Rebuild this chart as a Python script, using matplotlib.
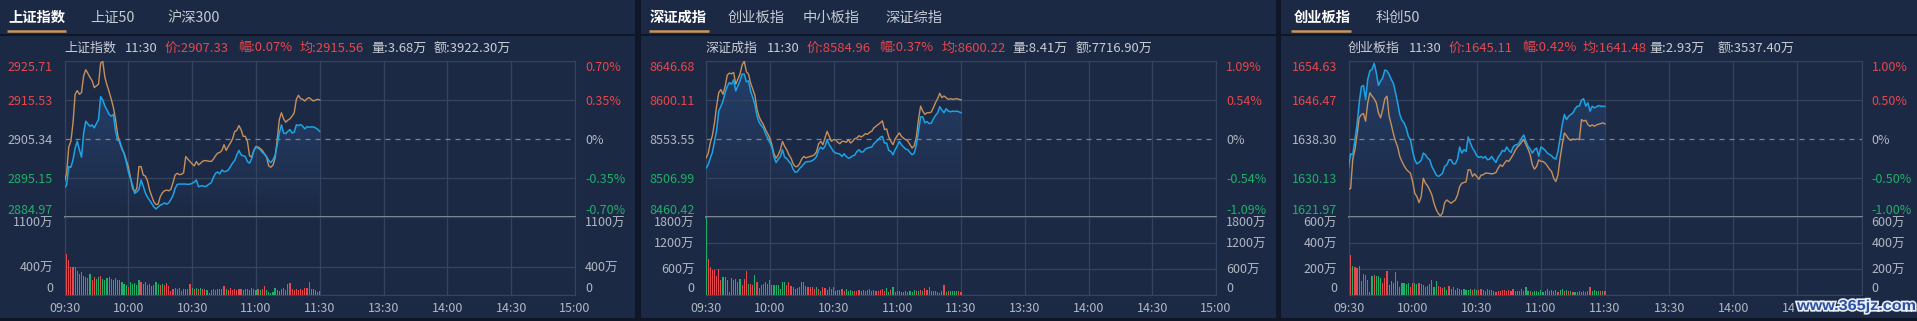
import numpy as np
import matplotlib.pyplot as plt
from matplotlib import patheffects
from matplotlib.patches import Rectangle, PathPatch
from matplotlib.colors import LinearSegmentedColormap
from matplotlib.textpath import TextPath
from matplotlib.font_manager import FontProperties
from matplotlib.transforms import Affine2D

plt.rcParams['font.family'] = ['Noto Sans CJK SC', 'DejaVu Sans']

# ---------------- data ----------------
minutes = np.arange(121)  # 09:30 .. 11:30, one point per minute
time_ticks = [0, 30, 60, 90, 120, 150, 180, 210, 240]
time_labels = ['09:30', '10:00', '10:30', '11:00', '11:30', '13:30', '14:00', '14:30', '15:00']

# 上证指数
sh_tabs = ['上证指数', '上证50', '沪深300']
sh_levels = [2884.97, 2895.15, 2905.34, 2915.53, 2925.71]
sh_pct = ['-0.70%', '-0.35%', '0%', '0.35%', '0.70%']
sh_vticks = [0, 400, 1100]
sh_amount = ['3.68万', '3922.30万']
sh_price = [
    2892.61, 2893.31, 2898.14, 2897.96, 2899.90, 2902.97, 2904.73, 2902.53, 2900.60, 2906.92,
    2909.99, 2909.29, 2908.68, 2909.03, 2908.24, 2909.38, 2910.43, 2916.40, 2915.52, 2913.94,
    2912.89, 2911.75, 2911.31, 2911.75, 2907.36, 2904.99, 2904.73, 2902.97, 2901.56, 2899.46,
    2896.82, 2894.98, 2893.31, 2891.12, 2891.56, 2892.17, 2894.63, 2893.05, 2891.29, 2890.15,
    2889.36, 2888.48, 2887.60, 2887.08, 2887.60, 2888.04, 2888.31, 2888.66, 2888.31, 2888.66,
    2889.54, 2890.59, 2892.43, 2893.49, 2893.57, 2893.57, 2893.57, 2893.57, 2893.49, 2893.57,
    2893.75, 2894.10, 2894.63, 2892.87, 2893.05, 2893.14, 2892.87, 2893.14, 2893.57, 2893.93,
    2895.33, 2896.38, 2896.74, 2896.21, 2897.26, 2896.82, 2896.91, 2897.26, 2898.14, 2899.02,
    2899.72, 2901.21, 2902.35, 2901.21, 2900.95, 2900.77, 2899.46, 2899.02, 2900.25, 2902.35,
    2903.23, 2902.97, 2902.53, 2901.83, 2901.39, 2900.77, 2899.72, 2899.19, 2899.90, 2901.04,
    2903.85, 2906.92, 2909.03, 2906.92, 2906.74, 2907.36, 2907.80, 2906.92, 2907.10, 2909.03,
    2908.85, 2909.12, 2908.68, 2907.97, 2908.59, 2908.41, 2908.50, 2908.50, 2908.24, 2907.89,
    2907.33]
sh_avg = [
    2894.19, 2896.38, 2903.23, 2904.73, 2909.55, 2917.02, 2917.98, 2917.02, 2917.46, 2921.85,
    2923.43, 2922.46, 2921.41, 2920.53, 2918.77, 2919.21, 2919.65, 2925.20, 2925.60, 2921.41,
    2919.39, 2917.63, 2915.70, 2913.51, 2910.43, 2906.48, 2904.29, 2902.71, 2901.65, 2899.90,
    2898.14, 2895.33, 2892.43, 2891.56, 2892.43, 2898.14, 2898.14, 2895.95, 2895.68, 2894.45,
    2891.99, 2890.41, 2888.92, 2888.22, 2888.31, 2890.24, 2891.29, 2891.82, 2891.99, 2891.82,
    2892.17, 2893.93, 2895.95, 2896.38, 2896.03, 2896.12, 2896.56, 2900.77, 2900.07, 2899.46,
    2898.84, 2898.32, 2899.46, 2898.58, 2899.02, 2899.55, 2899.72, 2899.63, 2899.55, 2899.46,
    2900.07, 2900.95, 2901.65, 2901.83, 2902.35, 2903.85, 2902.35, 2903.41, 2904.29, 2905.34,
    2907.27, 2907.62, 2908.85, 2907.80, 2906.04, 2906.04, 2904.73, 2900.95, 2900.60, 2902.35,
    2903.41, 2903.23, 2902.88, 2902.35, 2901.48, 2900.60, 2898.32, 2897.96, 2898.49, 2900.34,
    2905.16, 2910.43, 2912.19, 2910.61, 2909.73, 2910.26, 2910.61, 2911.31, 2912.19, 2915.70,
    2916.75, 2915.88, 2915.70, 2915.26, 2915.88, 2916.14, 2915.70, 2915.26, 2915.52, 2915.70,
    2915.56]
sh_vol = [
    1100, 585, 490, 400, 400, 400, 345, 300, 330, 275,
    260, 245, 300, 205, 260, 230, 250, 275, 230, 215,
    240, 260, 230, 205, 245, 215, 205, 185, 150, 140,
    115, 185, 150, 170, 140, 205, 185, 160, 185, 140,
    160, 125, 140, 185, 150, 140, 150, 140, 170, 125,
    60, 90, 105, 90, 105, 60, 80, 90, 80, 150,
    105, 80, 105, 90, 105, 80, 90, 70, 30, 70,
    80, 70, 80, 90, 80, 125, 80, 70, 105, 70,
    80, 70, 80, 90, 70, 80, 90, 70, 105, 80,
    70, 90, 70, 80, 125, 70, 45, 30, 45, 105,
    70, 60, 80, 105, 70, 150, 170, 90, 70, 80,
    70, 90, 70, 105, 105, 185, 90, 80, 70, 45,
    55]
sh_dir = ('grrrrrrgrg' 'rrgrrggrgg' 'ggrggggggg' 'rgggggrgrr' 'rggggrgrrr' 'rrrrrrggrr'
          'grgrgrrggr' 'rrrrrrgrrr' 'rrrrgrrggr' 'grgrrggggg' 'ggrrrrrrrr' 'rrrrrrgggg' 'g')

# 深证成指
sz_tabs = ['深证成指', '创业板指', '中小板指', '深证综指']
sz_levels = [8460.42, 8506.99, 8553.55, 8600.11, 8646.68]
sz_pct = ['-1.09%', '-0.54%', '0%', '0.54%', '1.09%']
sz_vticks = [0, 600, 1200, 1800]
sz_amount = ['8.41万', '7716.90万']
sz_price = [
    8518.63, 8522.64, 8530.67, 8537.49, 8550.74, 8563.99, 8586.87, 8592.49, 8598.91, 8608.94,
    8616.17, 8620.99, 8618.98, 8624.20, 8610.95, 8616.97, 8622.99, 8631.02, 8631.02, 8621.79,
    8622.99, 8610.55, 8602.92, 8594.89, 8580.85, 8573.62, 8569.61, 8566.80, 8559.97, 8554.75,
    8549.54, 8543.92, 8531.87, 8525.45, 8529.47, 8532.68, 8540.71, 8531.87, 8530.27, 8526.66,
    8523.85, 8517.42, 8513.81, 8514.61, 8518.23, 8520.64, 8523.85, 8526.25, 8526.66, 8526.66,
    8527.86, 8529.47, 8532.68, 8540.71, 8543.92, 8541.51, 8544.72, 8552.75, 8546.73, 8542.71,
    8538.70, 8536.69, 8536.29, 8535.49, 8532.68, 8535.89, 8532.68, 8530.67, 8531.47, 8533.48,
    8534.28, 8538.70, 8540.71, 8537.90, 8538.30, 8541.51, 8542.71, 8543.51, 8543.92, 8547.93,
    8550.34, 8552.75, 8555.56, 8556.76, 8548.73, 8548.73, 8539.90, 8538.70, 8534.68, 8540.71,
    8545.52, 8550.74, 8546.73, 8543.92, 8541.51, 8540.71, 8537.49, 8534.68, 8536.69, 8546.73,
    8562.78, 8580.04, 8580.04, 8572.82, 8574.42, 8572.01, 8572.42, 8577.63, 8581.65, 8584.86,
    8592.08, 8588.07, 8584.86, 8589.68, 8586.87, 8586.06, 8586.87, 8586.46, 8586.87, 8586.06,
    8584.96]
sz_avg = [
    8530.67, 8535.89, 8548.73, 8557.56, 8572.82, 8592.89, 8608.94, 8612.56, 8606.94, 8616.17,
    8629.82, 8632.22, 8631.42, 8633.03, 8618.98, 8625.00, 8631.02, 8641.86, 8646.50, 8633.83,
    8631.02, 8620.18, 8612.96, 8605.73, 8588.87, 8580.04, 8574.82, 8570.81, 8564.79, 8559.97,
    8554.75, 8546.73, 8535.89, 8530.67, 8534.68, 8540.71, 8550.74, 8544.72, 8540.71, 8534.68,
    8530.67, 8523.85, 8520.64, 8520.64, 8523.85, 8529.47, 8532.68, 8531.07, 8531.87, 8532.68,
    8533.48, 8534.68, 8538.30, 8547.93, 8550.74, 8546.73, 8554.75, 8562.78, 8556.76, 8550.74,
    8552.75, 8552.75, 8549.54, 8547.93, 8550.74, 8550.74, 8549.54, 8552.75, 8548.73, 8550.74,
    8553.95, 8554.75, 8557.56, 8555.96, 8557.56, 8559.97, 8559.17, 8561.58, 8562.78, 8566.80,
    8568.80, 8570.81, 8572.82, 8575.23, 8564.79, 8565.59, 8555.96, 8550.74, 8546.73, 8553.55,
    8557.56, 8560.78, 8556.76, 8554.35, 8552.75, 8551.14, 8546.73, 8542.71, 8545.52, 8555.96,
    8576.83, 8592.89, 8586.87, 8582.85, 8584.86, 8584.86, 8585.66, 8590.88, 8596.90, 8601.72,
    8608.14, 8602.92, 8604.93, 8602.92, 8600.92, 8601.72, 8600.92, 8601.32, 8601.72, 8600.92,
    8600.22]
sz_vol = [
    1800, 820, 650, 585, 570, 445, 600, 350, 415, 415,
    350, 80, 390, 335, 365, 310, 365, 235, 365, 560,
    255, 255, 235, 470, 290, 155, 235, 255, 290, 255,
    335, 235, 235, 235, 235, 130, 290, 290, 235, 310,
    210, 180, 130, 155, 180, 290, 290, 210, 180, 180,
    180, 130, 195, 130, 100, 180, 155, 115, 180, 130,
    195, 100, 115, 115, 130, 100, 150, 100, 115, 100,
    100, 100, 115, 100, 115, 100, 115, 130, 100, 115,
    100, 100, 115, 130, 100, 155, 80, 115, 180, 80,
    85, 85, 80, 80, 85, 80, 100, 80, 115, 100,
    85, 115, 100, 155, 115, 195, 100, 100, 85, 80,
    55, 100, 235, 80, 100, 100, 85, 85, 100, 85,
    80]
sz_dir = ('grrrrrrrgg' 'gggrgrgrrr' 'grrgrrrrgg' 'rgggggggrr' 'rrggggggrr' 'rrgrgrrgrr'
          'rgggrrgggg' 'rrrgrrrrrg' 'rrrrrggrgg' 'rggggrgggr' 'grgrrrgggr' 'grrgrggggr' 'r')

# 创业板指
cy_tabs = ['创业板指', '科创50']
cy_levels = [1621.97, 1630.13, 1638.30, 1646.47, 1654.63]
cy_pct = ['-1.00%', '-0.50%', '0%', '0.50%', '1.00%']
cy_vticks = [0, 200, 400, 600]
cy_amount = ['2.93万', '3537.40万']
cy_price = [
    1632.20, 1635.21, 1635.00, 1638.16, 1641.32, 1645.87, 1649.24, 1649.52, 1646.58, 1650.78,
    1652.54, 1652.89, 1654.15, 1652.19, 1649.52, 1650.43, 1651.13, 1652.75, 1652.54, 1651.84,
    1650.78, 1649.94, 1647.98, 1645.87, 1643.42, 1642.23, 1641.67, 1640.61, 1638.86, 1638.16,
    1635.71, 1633.95, 1633.11, 1633.39, 1633.81, 1635.35, 1635.00, 1634.30, 1633.95, 1632.55,
    1631.71, 1630.80, 1630.45, 1630.73, 1631.15, 1632.55, 1632.90, 1633.95, 1633.95, 1633.11,
    1633.11, 1634.09, 1636.62, 1635.35, 1636.06, 1635.71, 1638.72, 1637.46, 1636.41, 1635.71,
    1634.79, 1634.44, 1634.65, 1634.30, 1634.65, 1633.95, 1634.09, 1634.65, 1633.95, 1633.39,
    1634.51, 1635.07, 1635.92, 1635.71, 1636.62, 1635.92, 1635.49, 1636.62, 1637.04, 1637.11,
    1637.60, 1638.51, 1639.14, 1637.81, 1636.76, 1636.20, 1635.35, 1636.06, 1636.41, 1634.65,
    1636.62, 1636.34, 1635.92, 1635.35, 1635.07, 1634.79, 1634.30, 1634.09, 1635.71, 1638.51,
    1641.32, 1643.42, 1642.37, 1643.07, 1643.42, 1643.77, 1644.61, 1645.17, 1645.17, 1646.44,
    1646.72, 1645.17, 1645.87, 1644.12, 1645.17, 1644.82, 1645.03, 1645.31, 1645.17, 1645.17,
    1645.11]
cy_avg = [
    1627.78, 1627.92, 1634.09, 1636.06, 1639.21, 1642.72, 1643.42, 1643.63, 1642.02, 1645.87,
    1647.98, 1647.28, 1646.72, 1645.87, 1643.77, 1642.72, 1644.47, 1646.72, 1647.28, 1643.07,
    1641.32, 1639.42, 1637.81, 1636.62, 1634.65, 1633.60, 1632.69, 1631.99, 1631.50, 1631.15,
    1629.39, 1626.94, 1626.24, 1624.98, 1626.24, 1630.09, 1629.04, 1628.48, 1627.64, 1626.59,
    1624.84, 1623.57, 1622.73, 1622.17, 1622.87, 1624.98, 1625.54, 1625.19, 1624.84, 1625.19,
    1625.54, 1626.59, 1628.34, 1629.04, 1629.18, 1629.32, 1631.85, 1631.85, 1630.45, 1631.01,
    1630.45, 1629.88, 1630.73, 1630.80, 1631.15, 1631.15, 1631.08, 1631.01, 1631.08, 1631.29,
    1632.20, 1632.90, 1632.55, 1633.25, 1633.81, 1633.60, 1634.30, 1635.00, 1635.92, 1636.62,
    1637.04, 1637.67, 1638.16, 1637.11, 1636.20, 1635.00, 1632.90, 1631.99, 1632.55, 1633.95,
    1633.60, 1633.60, 1633.25, 1632.69, 1631.99, 1631.50, 1630.09, 1629.39, 1630.80, 1634.30,
    1637.11, 1639.56, 1639.00, 1638.30, 1638.02, 1638.30, 1638.16, 1638.30, 1638.16, 1642.37,
    1642.02, 1642.23, 1641.32, 1640.96, 1641.25, 1640.96, 1641.25, 1641.39, 1641.53, 1641.67,
    1641.48]
cy_vol = [
    555, 305, 226, 216, 208, 221, 104, 164, 156, 117,
    26, 143, 156, 143, 143, 130, 91, 130, 182, 78,
    104, 96, 174, 104, 60, 96, 91, 86, 91, 60,
    96, 96, 86, 96, 86, 78, 60, 70, 86, 117,
    60, 104, 70, 60, 52, 65, 39, 70, 44, 60,
    39, 52, 44, 39, 44, 39, 39, 44, 39, 44,
    39, 39, 44, 39, 34, 44, 39, 39, 34, 26,
    34, 34, 39, 39, 34, 39, 34, 44, 34, 34,
    34, 44, 34, 60, 34, 34, 26, 34, 34, 26,
    39, 26, 34, 44, 34, 39, 34, 39, 26, 39,
    44, 34, 39, 34, 34, 26, 26, 26, 34, 26,
    34, 26, 34, 65, 34, 39, 29, 29, 29, 34,
    29]
cy_dir = ('grgrrrgrrr' 'rgrgggrrrg' 'gggggggggr' 'rggrrrgggg' 'ggrrrggrrr' 'ggggggggrg'
          'grrrrrrrrr' 'rrrrrrrrrg' 'rrrggrgggg' 'ggggrgrgrg' 'grgrgrggrr' 'rrrrggggrg' 'r')

watermark = 'www.365jz.com'

# ---------------- style ----------------
W, H = 1917, 321
BG = '#1c2944'
GAP = '#0e1627'
GRID = '#34445f'
SEP = '#8a909c'
TXT = '#b1b7c3'
INFO = '#c9cdd5'
RED = '#e5484d'
GREEN = '#1faf69'
BLUE = '#1ba3e6'
ORANGE = '#c7905a'

panels = [
    dict(tabs=sh_tabs, levels=sh_levels, pct=sh_pct, vticks=sh_vticks, amount=sh_amount,
         price=sh_price, avg=sh_avg, vol=sh_vol, dirs=sh_dir,
         left=0, right=635, x0=64.5, x1=575, tab_x=[8, 90.5, 167], line=(7, 66),
         info_x=[64, 124.5, 164.5, 238, 299, 371, 434]),
    dict(tabs=sz_tabs, levels=sz_levels, pct=sz_pct, vticks=sz_vticks, amount=sz_amount,
         price=sz_price, avg=sz_avg, vol=sz_vol, dirs=sz_dir,
         left=641, right=1276, x0=706, x1=1216, tab_x=[650, 728, 803, 885], line=(649, 709),
         info_x=[706, 766.5, 807, 879.5, 941, 1012.5, 1075.5]),
    dict(tabs=cy_tabs, levels=cy_levels, pct=cy_pct, vticks=cy_vticks, amount=cy_amount,
         price=cy_price, avg=cy_avg, vol=cy_vol, dirs=cy_dir,
         left=1281, right=1917, x0=1348.5, x1=1861.5, tab_x=[1293.5, 1375.5], line=(1291, 1351),
         info_x=[1348, 1409, 1448.5, 1522.5, 1582.5, 1649.5, 1718]),
]

fig = plt.figure(figsize=(W / 100, H / 100), dpi=100, facecolor=GAP)
canvas = fig.add_axes([0, 0, 1, 1])
canvas.set_xlim(0, W)
canvas.set_ylim(H, 0)
canvas.axis('off')


def px_axes(x0, y0, x1, y1):
    return fig.add_axes([x0 / W, 1 - y1 / H, (x1 - x0) / W, (y1 - y0) / H])


fill_cmap = LinearSegmentedColormap.from_list(
    'fill', [(0.17, 0.31, 0.52, 0.0), (0.17, 0.31, 0.52, 0.55)])

for p in panels:
    # panel backgrounds
    canvas.add_patch(Rectangle((p['left'], 0), p['right'] - p['left'], 34, color=BG, lw=0))
    canvas.add_patch(Rectangle((p['left'], 36), p['right'] - p['left'], 282, color=BG, lw=0))

    # tabs
    for i, (t, tx) in enumerate(zip(p['tabs'], p['tab_x'])):
        canvas.text(tx, 18, t, fontsize=10.3, va='center', ha='left',
                    color='white' if i == 0 else '#c5cad3',
                    fontweight='bold' if i == 0 else 'normal')
    canvas.plot(p['line'], [31, 31], color='#c8955b', lw=1.8, solid_capstyle='butt')

    # info line
    pre = p['levels'][2]
    last, avg_last = p['price'][-1], p['avg'][-1]
    chg = (last / pre - 1) * 100
    segs = [p['tabs'][0], '11:30', f'价:{last:.2f}', f'幅:{chg:.2f}%', f'均:{avg_last:.2f}',
            f'量:{p["amount"][0]}', f'额:{p["amount"][1]}']
    cols = [INFO, INFO, RED, RED, RED, INFO, INFO]
    for s, c, sx in zip(segs, cols, p['info_x']):
        canvas.text(sx, 48, s, fontsize=9.4, va='center', ha='left', color=c)

    lvl = p['levels']
    lvl_cols = [GREEN, GREEN, TXT, RED, RED]

    # ---- price chart ----
    ax = px_axes(p['x0'], 61, p['x1'], 217)
    ax.set_facecolor('none')
    fill = ax.fill_between(minutes, p['price'], lvl[0], color='none', lw=0)
    grad = np.linspace(1, 0, 200).reshape(-1, 1)
    img = ax.imshow(grad, extent=[0, 240, lvl[0], max(p['price'])], aspect='auto',
                    cmap=fill_cmap, origin='upper', zorder=1)
    img.set_clip_path(fill.get_paths()[0], transform=ax.transData)
    ax.plot(minutes, p['avg'], color=ORANGE, lw=1.0, zorder=3)
    ax.plot(minutes, p['price'], color=BLUE, lw=1.1, zorder=4)
    ax.axhline(pre, color='#7d8491', lw=0.9, ls=(0, (4, 4)), zorder=2)
    ax.set_xlim(0, 240)
    ax.set_ylim(lvl[0], lvl[-1])
    ax.set_xticks(time_ticks)
    ax.set_yticks(lvl, labels=[f'{v:.2f}' for v in lvl])
    ax.grid(color=GRID, lw=0.9, zorder=0)
    ax.get_ygridlines()[2].set_visible(False)
    ax.tick_params(length=0, labelbottom=False, labelsize=9, pad=8.3)
    for lab, c in zip(ax.get_yticklabels(), lvl_cols):
        lab.set_color(c)
    ax.get_yticklabels()[0].set_va('bottom')
    ax.get_yticklabels()[-1].set_va('top')
    for s in ax.spines.values():
        s.set_color(GRID)
    ax.spines['bottom'].set_color(SEP)
    ax.spines['bottom'].set_linewidth(1.3)
    ax.spines['bottom'].set_zorder(5)

    ax2 = ax.twinx()
    ax2.set_ylim(lvl[0], lvl[-1])
    ax2.set_yticks(lvl, labels=p['pct'])
    ax2.tick_params(length=0, labelsize=9, pad=7.2)
    for lab, c in zip(ax2.get_yticklabels(), lvl_cols):
        lab.set_color(c)
    ax2.get_yticklabels()[0].set_va('bottom')
    ax2.get_yticklabels()[-1].set_va('top')
    for s in ax2.spines.values():
        s.set_visible(False)

    # ---- volume chart ----
    vx = px_axes(p['x0'], 217, p['x1'], 295)
    vx.set_facecolor('none')
    bar_cols = [RED if d == 'r' else GREEN for d in p['dirs']]
    vx.bar(minutes, p['vol'], width=0.55, color=bar_cols, lw=0, zorder=3)
    vmax = p['vticks'][-1]
    vx.set_xlim(0, 240)
    vx.set_ylim(0, vmax)
    vx.set_xticks(time_ticks, labels=time_labels)
    vlabels = ['0' if v == 0 else f'{v}万' for v in p['vticks']]
    vx.set_yticks(p['vticks'], labels=vlabels)
    vx.grid(color=GRID, lw=0.9, zorder=0)
    vx.tick_params(length=0, labelsize=9, colors=TXT, pad=8.3)
    vx.tick_params(axis='x', pad=5)
    vx.get_yticklabels()[0].set_va('bottom')
    vx.get_yticklabels()[-1].set_va('top')
    for s in vx.spines.values():
        s.set_color(GRID)
    vx.spines['top'].set_visible(False)

    vx2 = vx.twinx()
    vx2.set_ylim(0, vmax)
    vx2.set_yticks(p['vticks'], labels=vlabels)
    vx2.tick_params(length=0, labelsize=9, colors=TXT, pad=7.2)
    vx2.get_yticklabels()[0].set_va('bottom')
    vx2.get_yticklabels()[-1].set_va('top')
    for s in vx2.spines.values():
        s.set_visible(False)

# watermark over the bottom-right corner (covers the late time labels, as in the source)
top = fig.add_axes([0, 0, 1, 1])
top.set_xlim(0, W)
top.set_ylim(H, 0)
top.axis('off')
top.add_patch(Rectangle((1794, 298), 123, 18, color=BG, lw=0))
tp = TextPath((0, 0), watermark, size=1,
              prop=FontProperties(family='Liberation Sans', weight='bold'))
bb = tp.get_extents()
sx, sy = 118 / bb.width, 13.5 / bb.height
tr = Affine2D().translate(-bb.x0, -bb.y0).scale(sx, -sy).translate(1797, 313)
wm = PathPatch(tr.transform_path(tp), facecolor='#2b4f9e', edgecolor='none')
wm.set_path_effects([patheffects.withStroke(linewidth=2.4, foreground='#e8eef7')])
top.add_patch(wm)

fig.savefig('out.png', dpi=100, facecolor=GAP)
